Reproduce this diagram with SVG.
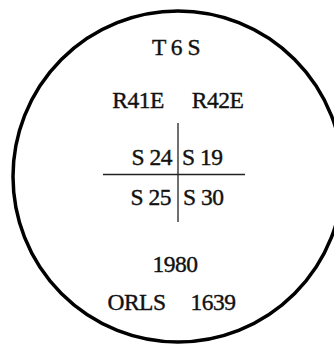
<svg xmlns="http://www.w3.org/2000/svg" width="334" height="344" viewBox="0 0 334 344">
<style>
text{font-family:'Liberation Serif','Times New Roman',serif;font-size:23.5px;fill:#111;stroke:#111;stroke-width:0.4;letter-spacing:-0.5px;}
.ln{stroke:#222;stroke-width:1.3;fill:none;}
</style>
<rect width="334" height="344" fill="#fff"/>
<g id="boundary">
<ellipse cx="178" cy="176.5" rx="165" ry="165.5" fill="none" stroke="#000" stroke-width="3.5"/>
</g>
<g id="connectors">
<line class="ln" x1="178" y1="123" x2="178" y2="222"/>
<line class="ln" x1="103" y1="174.5" x2="245" y2="174.5"/>
</g>
<g id="township"><text x="176" y="55" text-anchor="middle">T 6 S</text></g>
<g id="ranges">
<text x="138" y="108" text-anchor="middle">R41E</text>
<text x="217.5" y="108" text-anchor="middle">R42E</text>
</g>
<g id="sections">
<text x="172" y="165" text-anchor="end">S 24</text>
<text x="182" y="165">S 19</text>
<text x="171" y="205" text-anchor="end">S 25</text>
<text x="183" y="205">S 30</text>
</g>
<g id="year"><text x="175" y="272" text-anchor="middle">1980</text></g>
<g id="orls">
<text x="136.5" y="310" text-anchor="middle">ORLS</text>
<text x="213" y="310" text-anchor="middle">1639</text>
</g>
</svg>
